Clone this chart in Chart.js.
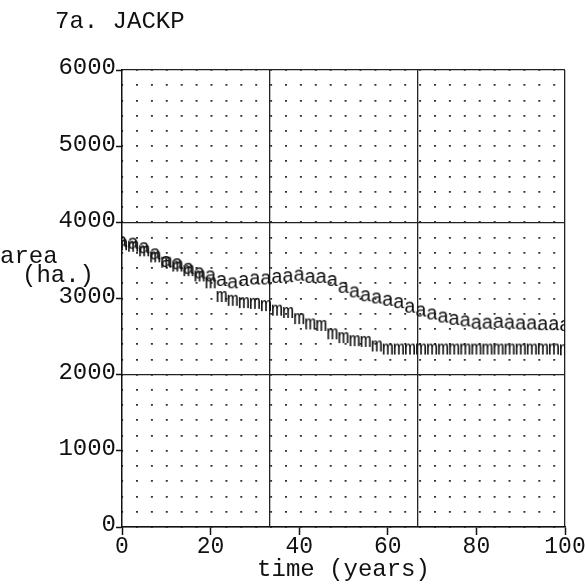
<!DOCTYPE html>
<html>
<head>
<meta charset="utf-8">
<script src="https://cdn.jsdelivr.net/npm/chart.js@4"></script>
<style>
  html, body { margin: 0; padding: 0; background: #fff; }
  #wrap { position: relative; width: 585px; height: 585px; }
  .txt { position: absolute; font-family: "Liberation Mono", monospace; font-size: 24px; color: #111; white-space: pre; line-height: 1; }
</style>
</head>
<body>
<div id="wrap">
  <canvas id="jackp" width="585" height="585"></canvas>
  <div class="txt" style="left:55px; top:10px;">7a. JACKP</div>
  <div class="txt" style="left:0px; top:245px;">area</div>
  <div class="txt" style="left:22px; top:264px;">(ha.)</div>
</div>
<script>
// years sampled on the printer plot
const years = [0, 2.5, 5, 7.5, 10, 12.5, 15, 17.5, 20, 22.5, 25, 27.5, 30, 32.5, 35, 37.5, 40,
  42.5, 45, 47.5, 50, 52.5, 55, 57.5, 60, 62.5, 65, 67.5, 70, 72.5, 75, 77.5, 80,
  82.5, 85, 87.5, 90, 92.5, 95, 97.5, 100];

// "a" series (upper curve)
const aArea = [3740, 3720, 3660, 3580, 3480, 3450, 3390, 3330, 3290, 3230, 3200, 3230, 3250, 3250, 3270, 3280, 3300,
  3270, 3270, 3230, 3140, 3080, 3030, 3000, 2970, 2940, 2880, 2830, 2790, 2750, 2720, 2700, 2670,
  2670, 2680, 2670, 2660, 2660, 2650, 2650, 2640];

// "m" series (lower curve)
const mArea = [3700, 3680, 3620, 3540, 3470, 3420, 3360, 3290, 3200, 3020, 2970, 2940, 2930, 2900, 2840, 2810, 2730,
  2660, 2640, 2530, 2480, 2440, 2430, 2370, 2330, 2330, 2330, 2330, 2330, 2330, 2330, 2330, 2330,
  2330, 2330, 2330, 2330, 2330, 2330, 2330, 2320];

const xTicks = [0, 20, 40, 60, 80, 100];
const yTicks = [0, 1000, 2000, 3000, 4000, 5000, 6000];
const ink = '#111';
const mono = '"Liberation Mono", monospace';

// typed characters used as point markers
function glyph(ch) {
  const c = document.createElement('canvas');
  c.width = 16; c.height = 20;
  const g = c.getContext('2d');
  g.font = '20px ' + mono;
  g.fillStyle = ink;
  g.textAlign = 'center';
  g.textBaseline = 'alphabetic';
  g.fillText(ch, 8, 15);
  return c;
}

const aPts = years.map((y, i) => ({ x: y, y: aArea[i] }));
const mPts = years.map((y, i) => ({ x: y, y: mArea[i] }));

new Chart(document.getElementById('jackp'), {
  type: 'scatter',
  data: {
    datasets: [
      { label: 'a', data: aPts, pointStyle: glyph('a'), pointRadius: 5 },
      { label: 'm', data: mPts, pointStyle: glyph('m'), pointRadius: 5 }
    ]
  },
  options: {
    responsive: false,
    animation: false,
    layout: { padding: { top: 70, right: 0, bottom: 3, left: 0 } },
    plugins: { legend: { display: false }, tooltip: { enabled: false } },
    scales: {
      x: {
        type: 'linear', position: 'bottom', min: 0, max: 100,
        afterBuildTicks: s => { s.ticks = xTicks.map(v => ({ value: v })); },
        afterFit: s => { s.paddingRight = 20; },
        ticks: { color: ink, padding: 0, callback: v => String(v),
          font: { family: mono, size: 23, lineHeight: 1 } },
        grid: { drawOnChartArea: false, tickLength: 8, tickWidth: 1.5, tickColor: ink },
        border: { color: ink, width: 1.5 },
        title: { display: true, text: 'time (years)', color: ink, padding: 0,
          font: { family: mono, size: 24, lineHeight: 1 } }
      },
      xLines: {
        type: 'linear', position: 'bottom', min: 0, max: 100,
        afterBuildTicks: s => { s.ticks = [100 / 3, 200 / 3, 100].map(v => ({ value: v })); },
        afterFit: s => { s.height = 0; },
        ticks: { display: false },
        grid: { color: '#222', lineWidth: 1.3, drawTicks: false },
        border: { display: false }
      },
      y: {
        type: 'linear', position: 'left', min: 0, max: 6000,
        afterBuildTicks: s => { s.ticks = yTicks.map(v => ({ value: v })); },
        afterFit: s => { s.width = 122; },
        ticks: { color: ink, padding: 0, labelOffset: -2, callback: v => String(v),
          font: { family: mono, size: 24, lineHeight: 1 } },
        grid: { drawOnChartArea: false, tickLength: 6, tickWidth: 1.5, tickColor: ink },
        border: { color: ink, width: 1.5 }
      },
      yDots: {
        type: 'linear', position: 'left', min: 0, max: 6000,
        afterFit: s => { s.width = 0; },
        ticks: { display: false, stepSize: 200 },
        grid: { color: '#333', lineWidth: 1.8, drawTicks: false },
        border: { display: false, dash: [2, 12.9], dashOffset: 0.9 }
      },
      yLines: {
        type: 'linear', position: 'left', min: 0, max: 6000,
        afterFit: s => { s.width = 0; },
        ticks: { display: false, stepSize: 2000 },
        grid: { color: '#222', lineWidth: 1.3, drawTicks: false },
        border: { display: false }
      }
    }
  }
});
</script>
</body>
</html>
